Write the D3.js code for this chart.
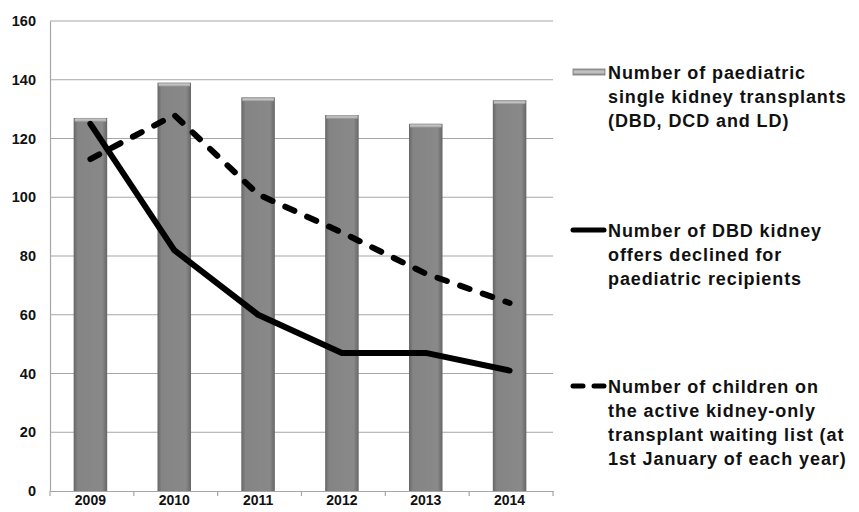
<!DOCTYPE html>
<html><head><meta charset="utf-8">
<script src="https://cdn.jsdelivr.net/npm/d3@7"></script>
<style>body{margin:0;background:#fff}svg{display:block}</style>
</head><body><svg id="c" width="859" height="512"></svg>
<script>
const years = ["2009","2010","2011","2012","2013","2014"];
const transplants = [127,139,134,128,125,133];
const declined = [125,82,60,47,47,41];
const waiting = [113,128,101,88,74,64];
const yTicks = [0,20,40,60,80,100,120,140,160];
const legendTexts = [
  ["Number of paediatric","single kidney transplants","(DBD, DCD and LD)"],
  ["Number of DBD kidney","offers declined for","paediatric recipients"],
  ["Number of children on","the active kidney-only","transplant waiting list (at","1st January of each year)"]
];

const svg = d3.select("#c");
const L = 50, R = 553, T = 21, B = 491;
const x = d3.scaleBand().domain(years).range([L,R]).paddingInner(0).paddingOuter(0);
const y = d3.scaleLinear().domain([0,160]).range([B,T]);
const FONT = "Liberation Sans, Arial, sans-serif";

const defs = svg.append("defs");
const g1 = defs.append("linearGradient").attr("id","barg").attr("x1","0").attr("x2","1").attr("y1","0").attr("y2","0");
g1.append("stop").attr("offset","0").attr("stop-color","#666");
g1.append("stop").attr("offset","0.12").attr("stop-color","#848484");
g1.append("stop").attr("offset","0.85").attr("stop-color","#898989");
g1.append("stop").attr("offset","1").attr("stop-color","#666");
const g2 = defs.append("linearGradient").attr("id","capg").attr("x1","0").attr("x2","0").attr("y1","0").attr("y2","1");
g2.append("stop").attr("offset","0").attr("stop-color","#999");
g2.append("stop").attr("offset","0.5").attr("stop-color","#c8c8c8");
g2.append("stop").attr("offset","1").attr("stop-color","#8a8a8a");

// gridlines
svg.append("g").selectAll("line").data(yTicks.filter(d=>d>0)).join("line")
  .attr("x1",L).attr("x2",R).attr("y1",d=>y(d)).attr("y2",d=>y(d))
  .attr("stroke","#a6a6a6").attr("stroke-width",1.2);

// y axis
const ya = svg.append("g").attr("transform",`translate(${L},0)`)
  .call(d3.axisLeft(y).tickValues(yTicks).tickSize(0).tickPadding(14));
ya.select(".domain").attr("stroke","#a6a6a6").attr("stroke-width",1.2);
ya.selectAll("text").attr("font-family",FONT)
  .attr("font-weight","bold").attr("font-size","14.5px").attr("fill","#111");

// x axis
const xa = svg.append("g").attr("transform",`translate(0,${B})`)
  .call(d3.axisBottom(x).tickSize(0).tickPadding(4));
xa.select(".domain").attr("stroke","#a6a6a6").attr("stroke-width",1.2);
xa.selectAll("text").attr("font-family",FONT)
  .attr("font-weight","bold").attr("font-size","14px").attr("fill","#111")
  .attr("transform","translate(-1.5,0)");
// x tick marks at band boundaries
svg.append("g").selectAll("line").data(years.concat(["end"])).join("line")
  .attr("x1",(d,i)=>L+i*x.step()).attr("x2",(d,i)=>L+i*x.step())
  .attr("y1",B).attr("y2",B+5).attr("stroke","#a6a6a6").attr("stroke-width",1.2);

// bars
const bw = x.bandwidth()*0.4;
const bars = svg.append("g").selectAll("g").data(years).join("g");
bars.append("rect").attr("x",d=>x(d)+x.bandwidth()/2-bw/2-1.5)
  .attr("y",(d,i)=>y(transplants[i])).attr("width",bw)
  .attr("height",(d,i)=>B-y(transplants[i])).attr("fill","url(#barg)");
bars.append("rect").attr("x",d=>x(d)+x.bandwidth()/2-bw/2-1.5+1)
  .attr("y",(d,i)=>y(transplants[i])).attr("width",bw-2)
  .attr("height",4).attr("fill","url(#capg)").attr("rx",1);

// lines
const line = d3.line().x((d,i)=>x(years[i])+x.bandwidth()/2-1.5).y(d=>y(d));
svg.append("path").datum(waiting).attr("d",line).attr("fill","none")
  .attr("stroke","#000").attr("stroke-width",6).attr("stroke-dasharray","10,14")
  .attr("stroke-linecap","round");
svg.append("path").datum(declined).attr("d",line).attr("fill","none")
  .attr("stroke","#000").attr("stroke-width",6).attr("stroke-linejoin","round")
  .attr("stroke-linecap","round");

// legend
const legY = [73,231,387];
const lg = svg.append("g");
legendTexts.forEach((lines,k)=>{
  const cy = legY[k];
  if(k===0){
    lg.append("rect").attr("x",573).attr("y",cy-4).attr("width",32).attr("height",6).attr("fill","url(#capg)");
    lg.append("rect").attr("x",573).attr("y",cy-4).attr("width",32).attr("height",6).attr("fill","none").attr("stroke","#777").attr("stroke-width",0.8);
  } else if(k===1){
    lg.append("line").attr("x1",573).attr("x2",604).attr("y1",cy-1).attr("y2",cy-1)
      .attr("stroke","#000").attr("stroke-width",5).attr("stroke-linecap","round");
  } else {
    lg.append("line").attr("x1",573).attr("x2",604).attr("y1",cy-1).attr("y2",cy-1)
      .attr("stroke","#000").attr("stroke-width",5).attr("stroke-linecap","round")
      .attr("stroke-dasharray","10,11");
  }
  const t = lg.append("text").attr("x",608).attr("y",cy+6)
    .attr("font-family",FONT).attr("font-weight","bold")
    .attr("font-size","18px").attr("letter-spacing","0.9px").attr("fill","#111");
  lines.forEach((s,j)=>t.append("tspan").attr("x",608).attr("dy",j===0?0:24).text(s));
});
</script></body></html>
